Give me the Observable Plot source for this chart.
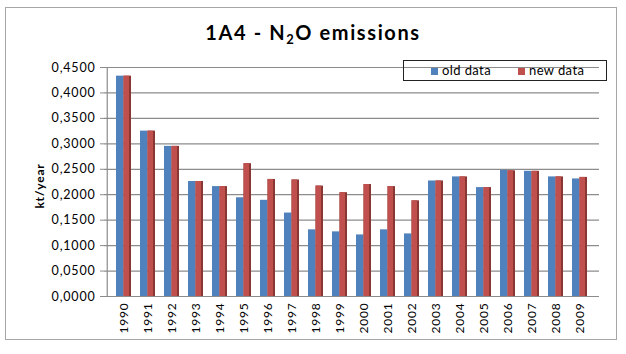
<!DOCTYPE html>
<html><head><meta charset="utf-8">
<script src="https://cdn.jsdelivr.net/npm/d3@7"></script>
<script src="https://cdn.jsdelivr.net/npm/@observablehq/plot@0.6"></script>
<style>
body{margin:0;background:#fff;}
#wrap{position:relative;width:626px;height:354px;font-family:Lato,"Open Sans",sans-serif;color:#000;}
#frame{position:absolute;left:5px;top:7px;width:612px;height:333px;border:1px solid #a6a6a6;box-sizing:border-box;}
#title{position:absolute;left:0;width:626px;top:20px;text-align:center;font-weight:bold;font-size:20px;letter-spacing:1.6px;}
#title sub{font-size:13px;vertical-align:-4px;line-height:0;}
#legend{position:absolute;left:403px;top:60px;width:204px;height:21px;border:1.5px solid #222;box-sizing:border-box;font-size:13px;letter-spacing:0.4px;}
#legend span.item{position:absolute;top:1px;}
#legend i{display:inline-block;width:7px;height:7px;margin-right:4px;vertical-align:0px;}
#chart{position:absolute;left:0;top:0;}
#chart svg text{letter-spacing:0.8px;}
</style></head>
<body>
<div id="wrap">
  <div id="frame"></div>
  <div id="chart"></div>
  <div id="title">1A4 - N<sub>2</sub>O emissions</div>
  <div id="legend"></div>
</div>
<script>
const years = ["1990","1991","1992","1993","1994","1995","1996","1997","1998","1999","2000","2001","2002","2003","2004","2005","2006","2007","2008","2009"];
const oldData = [0.433,0.325,0.295,0.226,0.216,0.194,0.189,0.164,0.131,0.127,0.121,0.131,0.123,0.227,0.235,0.214,0.248,0.246,0.235,0.231];
const newData = [0.433,0.325,0.295,0.226,0.216,0.261,0.230,0.229,0.217,0.204,0.220,0.216,0.188,0.227,0.235,0.214,0.247,0.246,0.235,0.234];
const yTicks = [0,0.05,0.1,0.15,0.2,0.25,0.3,0.35,0.4,0.45];
const seriesNames = ["old data","new data"];
const colors = ["#4F81BD","#C0504D"];
const sideColor = "#8C3634";

const rows = years.map((y,i)=>({year:y, old:oldData[i], nw:newData[i]}));

const W = 626, H = 354, ML = 104, MR = 27, MT = 67, MB = 58, pad = 0.38;
const step = (W - ML - MR) / (years.length + pad);
const bw = step * (1 - pad);
const half = bw / 2;
const leftEdge = -(pad * step + bw / 2);

const plot = Plot.plot({
  width: W, height: H,
  marginLeft: ML, marginRight: MR, marginTop: MT, marginBottom: MB,
  style: {fontFamily: "Lato, 'Open Sans', sans-serif", fontSize: "12px", color: "#000", background: "transparent"},
  x: {type: "band", domain: years, padding: pad, label: null},
  y: {domain: [0, 0.45], label: null},
  marks: [
    Plot.ruleY(yTicks, {stroke: "#8c8c8c", strokeWidth: 1.2}),
    Plot.ruleX([years[0]], {dx: leftEdge, y1: 0, y2: 0.45, stroke: "#8c8c8c", strokeWidth: 1.2}),
    Plot.barY(rows, {x: "year", y: "old", fill: colors[0], insetRight: half}),
    Plot.barY(rows, {x: "year", y: "nw", fill: sideColor, insetLeft: half}),
    Plot.barY(rows, {x: "year", y: "nw", fill: colors[1], insetLeft: half, insetRight: 2}),
    Plot.axisY({ticks: yTicks, tickFormat: d => d.toFixed(4).replace(".", ","), tickSize: 4, tickPadding: 5, fontSize: 12.5, stroke: "#8c8c8c", label: null}),
    Plot.axisX({tickRotate: -90, tickSize: 0, tickPadding: 6, fontSize: 12, label: null}),
    Plot.text(["kt/year"], {frameAnchor: "left", textAnchor: "middle", dx: -64, dy: 4, rotate: -90, fontWeight: "bold", fontSize: 12})
  ]
});
document.getElementById("chart").appendChild(plot);

const lg = document.getElementById("legend");
const pos = [27, 114];
seriesNames.forEach((s, i) => {
  const el = document.createElement("span");
  el.className = "item";
  el.style.left = pos[i] + "px";
  el.innerHTML = `<i style="background:${colors[i]}"></i>${s}`;
  lg.appendChild(el);
});
</script>
</body></html>
